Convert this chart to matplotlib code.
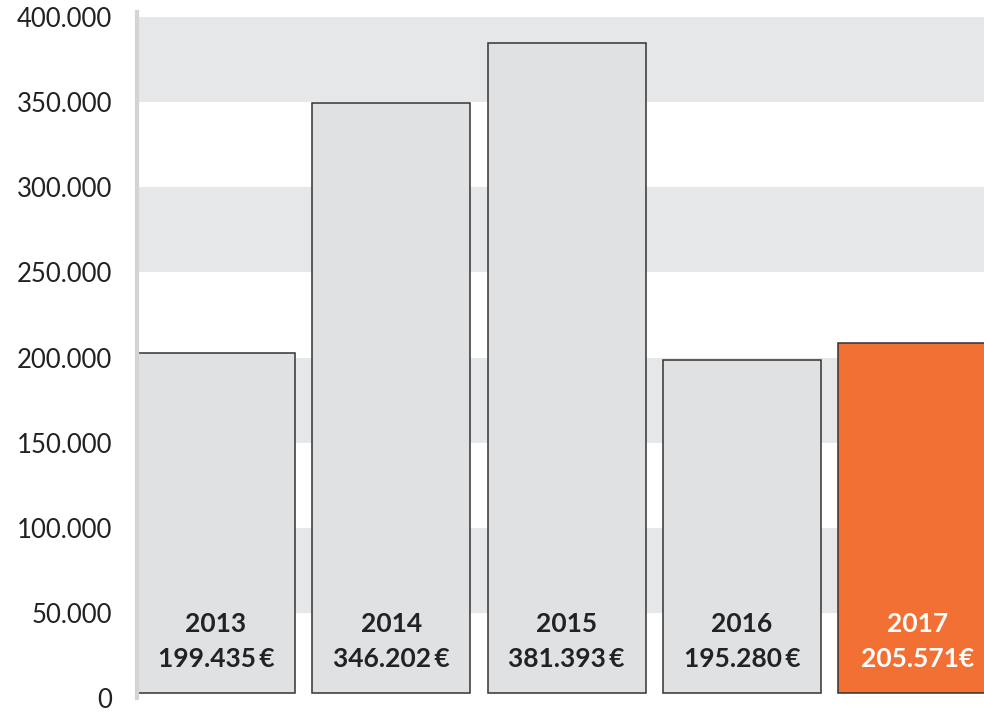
import matplotlib
matplotlib.use('Agg')
from matplotlib import pyplot as plt

plt.rcParams['font.family'] = ['Lato', 'DejaVu Sans']

years = ['2013', '2014', '2015', '2016', '2017']
values = [199435, 346202, 381393, 195280, 205571]
value_labels = ['199.435\u2009€', '346.202\u2009€', '381.393\u2009€', '195.280\u2009€', '205.571€']
yticks = [0, 50000, 100000, 150000, 200000, 250000, 300000, 350000, 400000]
ytick_labels = ['0', '50.000', '100.000', '150.000', '200.000', '250.000', '300.000', '350.000', '400.000']

# im Original sitzt das Raster etwas tiefer als die Balken
grid_shift = 3100

fig = plt.figure(figsize=(9.84, 7.15), dpi=100)
ax = fig.add_axes([137 / 984, 1 - 698 / 715, 1 - 137 / 984, (698 - 12) / 715])

# horizontale Bänder
for lo in [50000, 150000, 250000, 350000]:
    ax.axhspan(lo - grid_shift, lo + 50000 - grid_shift, color='#e6e7e9', lw=0, zorder=0)

colors = ['#e0e1e3'] * 4 + ['#f37035']
x = list(range(len(years)))
ax.bar(x, values, width=0.9, color=colors, edgecolor='#333333', linewidth=1.1, zorder=2)

for i in x:
    tc = 'white' if i == 4 else '#222222'
    ax.text(i, 40400, years[i], ha='center', va='center', fontsize=19, fontweight='bold', color=tc, zorder=3)
    ax.text(i, 19900, value_labels[i], ha='center', va='center', fontsize=19, fontweight='bold', color=tc, zorder=3)

ax.set_xlim(-0.45, 4.38)
ax.set_ylim(-1756, 399883)
ax.set_xticks([])
ax.set_yticks([t - grid_shift for t in yticks])
ax.set_yticklabels(ytick_labels, fontsize=18.5, color='#222222')
ax.tick_params(axis='y', length=0, pad=18)
for s in ['top', 'right', 'bottom']:
    ax.spines[s].set_visible(False)
ax.spines['left'].set_color('#d4d4d4')
ax.spines['left'].set_linewidth(3)

fig.savefig('out.png', dpi=100)
